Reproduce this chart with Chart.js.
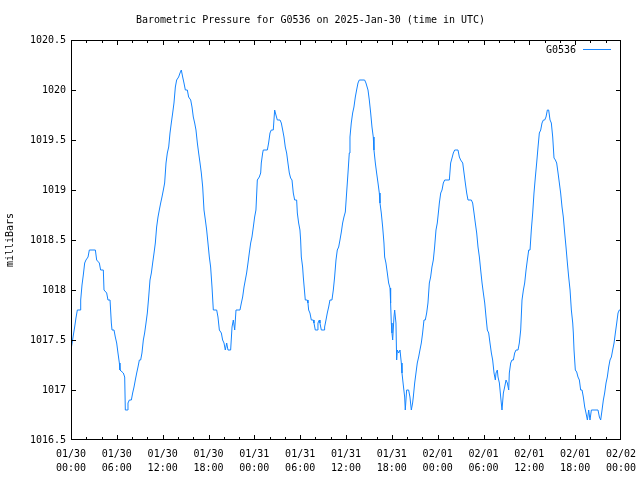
<!DOCTYPE html>
<html>
<head>
<meta charset="utf-8">
<script src="https://cdn.jsdelivr.net/npm/chart.js@4/dist/chart.umd.min.js"></script>
<style>
  html, body { margin: 0; padding: 0; background: #fff; }
  canvas { display: block; }
</style>
</head>
<body>
<canvas id="pressureChart" width="640" height="480"></canvas>
<script>
const station = 'G0536';
const chartTitle = 'Barometric Pressure for G0536 on 2025-Jan-30 (time in UTC)';

// hours since 01/30 00:00 UTC
const hours = [
  0, 0.31, 0.48, 0.65, 0.83, 1.18, 1.27, 1.44, 1.61, 1.79,
  1.96, 2.23, 2.40, 3.19, 3.36, 3.71, 3.88, 4.23, 4.32, 4.67,
  4.84, 5.11, 5.28, 5.37, 5.63, 5.80, 5.98, 6.15, 6.33, 6.41,
  6.85, 7.03, 7.11, 7.37, 7.46, 7.64, 7.90, 8.07, 8.25, 8.42,
  8.60, 8.77, 8.95, 9.12, 9.29, 9.47, 9.64, 9.82, 9.99, 10.17,
  10.34, 10.52, 10.69, 10.87, 11.04, 11.21, 11.39, 11.56, 11.74, 11.91,
  12.09, 12.26, 12.44, 12.61, 12.79, 12.96, 13.13, 13.31, 13.48, 13.66,
  13.83, 14.09, 14.27, 14.44, 14.62, 14.79, 14.97, 15.23, 15.40, 15.67,
  15.84, 16.01, 16.19, 16.36, 16.54, 16.71, 16.89, 17.06, 17.24, 17.41,
  17.59, 17.76, 17.93, 18.11, 18.28, 18.46, 18.63, 19.07, 19.24, 19.42,
  19.68, 19.85, 20.03, 20.20, 20.38, 20.55, 20.90, 21.08, 21.25, 21.43,
  21.60, 22.12, 22.30, 22.47, 22.65, 22.82, 22.99, 23.17, 23.34, 23.52,
  23.69, 23.87, 24.04, 24.21,
  24.39, 24.65, 24.83, 24.91, 25.09, 25.17, 25.70, 25.87, 26.05, 26.22,
  26.48, 26.66, 26.83, 27.01, 27.36, 27.53, 27.71, 27.88, 28.05, 28.23,
  28.40, 28.58, 28.75, 28.93, 29.10, 29.28, 29.54, 29.63, 29.80, 29.97,
  30.06, 30.15, 30.32, 30.41, 30.59, 30.67, 30.93, 31.02, 31.11, 31.28,
  31.46, 31.72, 31.81, 31.98, 32.24, 32.33, 32.51, 32.59, 32.77, 33.12,
  33.20, 33.38, 33.55, 33.73, 33.90, 34.16, 34.34, 34.51, 34.69, 34.86,
  35.04, 35.21, 35.39, 35.56, 35.73, 35.91, 36.08, 36.26, 36.43, 36.52,
  36.69, 36.87, 37.04, 37.22, 37.39, 37.57, 37.74, 38.44, 38.61, 38.88,
  39.05, 39.23, 39.40, 39.57, 39.66, 39.84, 40.01, 40.19, 40.36, 40.45,
  40.62, 40.80, 40.97, 41.06, 41.23, 41.41, 41.58, 41.76, 41.84, 41.93,
  42.02, 42.11, 42.28, 42.37, 42.54, 42.63, 42.72, 42.89, 43.07, 43.24,
  43.33, 43.50, 43.68, 43.76, 43.94, 44.20, 44.37, 44.55, 44.72, 44.81,
  44.99, 45.16, 45.33, 45.51, 45.68, 45.86, 46.03, 46.21, 46.38, 46.56,
  46.73, 46.91, 47.08, 47.25, 47.43, 47.60, 47.78, 47.95, 48.13,
  48.22, 48.40, 48.57, 48.74, 48.92, 49.53, 49.70, 49.88, 50.05, 50.23,
  50.66, 50.84, 51.01, 51.28, 51.45, 51.62, 51.80, 51.97, 52.41, 52.58,
  52.76, 52.93, 53.11, 53.28, 53.46, 53.63, 53.81, 53.98, 54.16, 54.33,
  54.50, 54.68, 54.85, 55.03, 55.20, 55.38, 55.55, 55.64, 55.81, 55.90,
  56.08, 56.25, 56.42, 56.60, 56.77, 56.95, 57.12, 57.30, 57.38, 57.56,
  57.73, 57.91, 58.08, 58.26, 58.52, 58.69, 58.87, 59.04, 59.22, 59.39,
  59.57, 59.74, 59.92, 60.09, 60.26, 60.44, 60.61, 60.79, 60.96, 61.14,
  61.31, 61.49, 61.66, 61.84, 62.01, 62.18, 62.36, 62.53, 62.71, 62.88,
  63.06, 63.23, 63.41, 63.58, 63.76, 63.93, 64.10, 64.28, 64.45, 64.63,
  64.80, 64.98, 65.15, 65.33, 65.50, 65.68, 65.76, 65.85, 66.02, 66.20,
  66.37, 66.55, 66.72, 66.90, 67.07, 67.25, 67.42, 67.60, 67.77, 67.94,
  68.12, 68.47, 68.99, 69.17, 69.34, 69.52, 69.69, 69.86, 70.04, 70.21,
  70.39, 70.56, 70.74, 70.91, 71.09, 71.26, 71.44, 71.61, 71.78, 72.00
];

// millibars
const pressure = [
  1017.40, 1017.55, 1017.63, 1017.72, 1017.80, 1017.80, 1017.90, 1018.05, 1018.15, 1018.27,
  1018.30, 1018.33, 1018.40, 1018.40, 1018.30, 1018.27, 1018.20, 1018.20, 1018.00, 1017.97,
  1017.90, 1017.90, 1017.67, 1017.60, 1017.60, 1017.53, 1017.47, 1017.37, 1017.27, 1017.20,
  1017.17, 1017.13, 1016.80, 1016.80, 1016.87, 1016.90, 1016.90, 1016.97, 1017.03, 1017.10,
  1017.17, 1017.23, 1017.30, 1017.30, 1017.37, 1017.50, 1017.57, 1017.67, 1017.77, 1017.93,
  1018.10, 1018.17, 1018.27, 1018.37, 1018.47, 1018.63, 1018.73, 1018.80, 1018.87, 1018.93,
  1019.00, 1019.07, 1019.27, 1019.37, 1019.43, 1019.57, 1019.67, 1019.77, 1019.87, 1020.03,
  1020.10, 1020.13, 1020.17, 1020.20, 1020.13, 1020.07, 1020.00, 1020.00, 1019.93, 1019.90,
  1019.83, 1019.73, 1019.67, 1019.60, 1019.47, 1019.37, 1019.27, 1019.17, 1019.03, 1018.80,
  1018.70, 1018.60, 1018.47, 1018.33, 1018.23, 1018.03, 1017.80, 1017.80, 1017.73, 1017.60,
  1017.57, 1017.50, 1017.47, 1017.40, 1017.47, 1017.40, 1017.40, 1017.63, 1017.70, 1017.60,
  1017.80, 1017.80, 1017.87, 1017.93, 1018.03, 1018.10, 1018.17, 1018.27, 1018.37, 1018.47,
  1018.53, 1018.63, 1018.73, 1018.80,
  1019.10, 1019.13, 1019.17, 1019.27, 1019.37, 1019.40, 1019.40, 1019.47, 1019.57, 1019.60,
  1019.60, 1019.80, 1019.75, 1019.70, 1019.70, 1019.67, 1019.60, 1019.53, 1019.43, 1019.37,
  1019.27, 1019.17, 1019.12, 1019.10, 1018.97, 1018.90, 1018.90, 1018.77, 1018.67, 1018.60,
  1018.50, 1018.33, 1018.23, 1018.13, 1017.97, 1017.90, 1017.90, 1017.87, 1017.80, 1017.77,
  1017.70, 1017.70, 1017.67, 1017.60, 1017.60, 1017.67, 1017.70, 1017.67, 1017.60, 1017.60,
  1017.63, 1017.70, 1017.77, 1017.83, 1017.90, 1017.90, 1018.00, 1018.13, 1018.30, 1018.40,
  1018.43, 1018.50, 1018.58, 1018.67, 1018.73, 1018.78, 1018.97, 1019.17, 1019.37, 1019.53,
  1019.67, 1019.77, 1019.83, 1019.93, 1020.00, 1020.07, 1020.10, 1020.10, 1020.07, 1020.00,
  1019.90, 1019.77, 1019.63, 1019.53, 1019.40, 1019.27, 1019.17, 1019.07, 1018.97, 1018.87,
  1018.77, 1018.63, 1018.47, 1018.33, 1018.27, 1018.17, 1018.07, 1018.02, 1017.87, 1017.67,
  1017.57, 1017.50, 1017.73, 1017.80, 1017.67, 1017.30, 1017.40, 1017.37, 1017.40, 1017.27,
  1017.17, 1017.05, 1016.93, 1016.80, 1017.00, 1017.00, 1016.93, 1016.80, 1016.87, 1016.93,
  1017.07, 1017.17, 1017.27, 1017.33, 1017.40, 1017.47, 1017.57, 1017.70, 1017.70, 1017.77,
  1017.87, 1018.07, 1018.13, 1018.23, 1018.30, 1018.43, 1018.60, 1018.67, 1018.80,
  1018.87, 1018.97, 1019.00, 1019.07, 1019.10, 1019.10, 1019.27, 1019.32, 1019.37, 1019.40,
  1019.40, 1019.33, 1019.30, 1019.27, 1019.17, 1019.07, 1018.97, 1018.90, 1018.90, 1018.87,
  1018.77, 1018.67, 1018.57, 1018.43, 1018.33, 1018.20, 1018.07, 1017.97, 1017.87, 1017.73,
  1017.60, 1017.57, 1017.47, 1017.37, 1017.30, 1017.17, 1017.10, 1017.17, 1017.20, 1017.13,
  1017.07, 1016.93, 1016.80, 1016.97, 1017.03, 1017.10, 1017.07, 1017.00, 1017.17, 1017.27,
  1017.30, 1017.30, 1017.37, 1017.40, 1017.40, 1017.47, 1017.60, 1017.90, 1018.00, 1018.07,
  1018.20, 1018.30, 1018.40, 1018.40, 1018.60, 1018.77, 1018.97, 1019.13, 1019.27, 1019.43,
  1019.57, 1019.60, 1019.67, 1019.70, 1019.70, 1019.73, 1019.80, 1019.80, 1019.70, 1019.67,
  1019.53, 1019.32, 1019.30, 1019.27, 1019.17, 1019.07, 1018.97, 1018.83, 1018.73, 1018.57,
  1018.43, 1018.27, 1018.13, 1018.00, 1017.80, 1017.67, 1017.57, 1017.40, 1017.20, 1017.18,
  1017.13, 1017.10, 1017.00, 1017.00, 1016.93, 1016.83, 1016.77, 1016.70, 1016.80, 1016.70,
  1016.80, 1016.80, 1016.80, 1016.73, 1016.70, 1016.80, 1016.90, 1016.97, 1017.07, 1017.13,
  1017.23, 1017.30, 1017.33, 1017.40, 1017.47, 1017.57, 1017.67, 1017.77, 1017.80, 1017.80
];

// one label every 6 hours
const xTickLabels = [
  '01/30 00:00', '01/30 06:00', '01/30 12:00', '01/30 18:00',
  '01/31 00:00', '01/31 06:00', '01/31 12:00', '01/31 18:00',
  '02/01 00:00', '02/01 06:00', '02/01 12:00', '02/01 18:00',
  '02/02 00:00'
];
const yTicks = [1016.5, 1017, 1017.5, 1018, 1018.5, 1019, 1019.5, 1020, 1020.5];

const FONT = "'DejaVu Sans Mono', monospace";
const txtFont = { family: FONT, size: 10, weight: 'normal' };

// gnuplot style box, inward ticks and in-plot key
const frame = {
  id: 'frame',
  afterDraw(chart) {
    const ctx = chart.ctx;
    const a = chart.chartArea;
    const xs = chart.scales.x, ys = chart.scales.y;
    const clampX = x => Math.min(Math.max(x, a.left + 0.5), a.right - 0.5);
    const clampY = y => Math.min(Math.max(y, a.top + 0.5), a.bottom - 0.5);
    ctx.save();
    ctx.strokeStyle = '#000';
    ctx.lineWidth = 1;
    ctx.strokeRect(a.left + 0.5, a.top + 0.5, a.right - a.left - 1, a.bottom - a.top - 1);
    ctx.beginPath();
    xs.ticks.forEach(t => {
      const x = clampX(Math.round(xs.getPixelForValue(t.value)) + 0.5);
      const len = t.value % 6 === 0 ? 4 : 2;
      ctx.moveTo(x, a.bottom); ctx.lineTo(x, a.bottom - 1 - len);
      ctx.moveTo(x, a.top); ctx.lineTo(x, a.top + 1 + len);
    });
    ys.ticks.forEach(t => {
      const y = clampY(Math.round(ys.getPixelForValue(t.value)) + 0.5);
      ctx.moveTo(a.left, y); ctx.lineTo(a.left + 5, y);
      ctx.moveTo(a.right, y); ctx.lineTo(a.right - 5, y);
    });
    ctx.stroke();

    const ds = chart.data.datasets[0];
    ctx.font = '10px ' + FONT;
    ctx.fillStyle = '#000';
    ctx.textAlign = 'right';
    ctx.textBaseline = 'middle';
    ctx.fillText(ds.label, a.right - 45, a.top + 10);
    ctx.strokeStyle = ds.borderColor;
    ctx.beginPath();
    ctx.moveTo(a.right - 38, a.top + 9.5);
    ctx.lineTo(a.right - 10, a.top + 9.5);
    ctx.stroke();
    ctx.restore();
  }
};

new Chart(document.getElementById('pressureChart'), {
  type: 'line',
  data: {
    datasets: [{
      label: station,
      data: hours.map((h, i) => ({ x: h, y: pressure[i] })),
      borderColor: '#1484ff',
      borderWidth: 1,
      pointRadius: 0,
      tension: 0,
      fill: false
    }]
  },
  options: {
    responsive: false,
    animation: false,
    layout: { padding: { top: 0, right: 19, bottom: 0, left: 0 } },
    plugins: {
      legend: { display: false },
      tooltip: { enabled: false },
      title: {
        display: true,
        text: chartTitle,
        color: '#000',
        font: { ...txtFont, lineHeight: 1.2 },
        padding: { top: 14, bottom: 14 }
      }
    },
    scales: {
      x: {
        type: 'linear',
        min: 0,
        max: 72,
        afterFit: s => { s.height = 40; s.paddingRight = 0; s.paddingLeft = 0; },
        grid: { display: false, drawTicks: false },
        border: { display: false },
        ticks: {
          stepSize: 2,
          autoSkip: false,
          maxRotation: 0,
          padding: 7,
          color: '#000',
          font: { ...txtFont, lineHeight: 1.4 },
          callback: v => v % 6 === 0 ? xTickLabels[v / 6].split(' ') : ''
        }
      },
      y: {
        min: 1016.5,
        max: 1020.5,
        afterFit: s => { s.width = 71; s.paddingTop = 0; s.paddingBottom = 0; },
        afterBuildTicks: s => { s.ticks = yTicks.map(v => ({ value: v })); },
        grid: { display: false, drawTicks: false },
        border: { display: false },
        title: {
          display: true,
          text: 'milliBars',
          color: '#000',
          font: { ...txtFont, lineHeight: 1.2 },
          padding: { top: 4, bottom: 0 }
        },
        ticks: {
          padding: 5,
          color: '#000',
          font: txtFont,
          callback: v => String(v)
        }
      }
    }
  },
  plugins: [frame]
});
</script>
</body>
</html>
